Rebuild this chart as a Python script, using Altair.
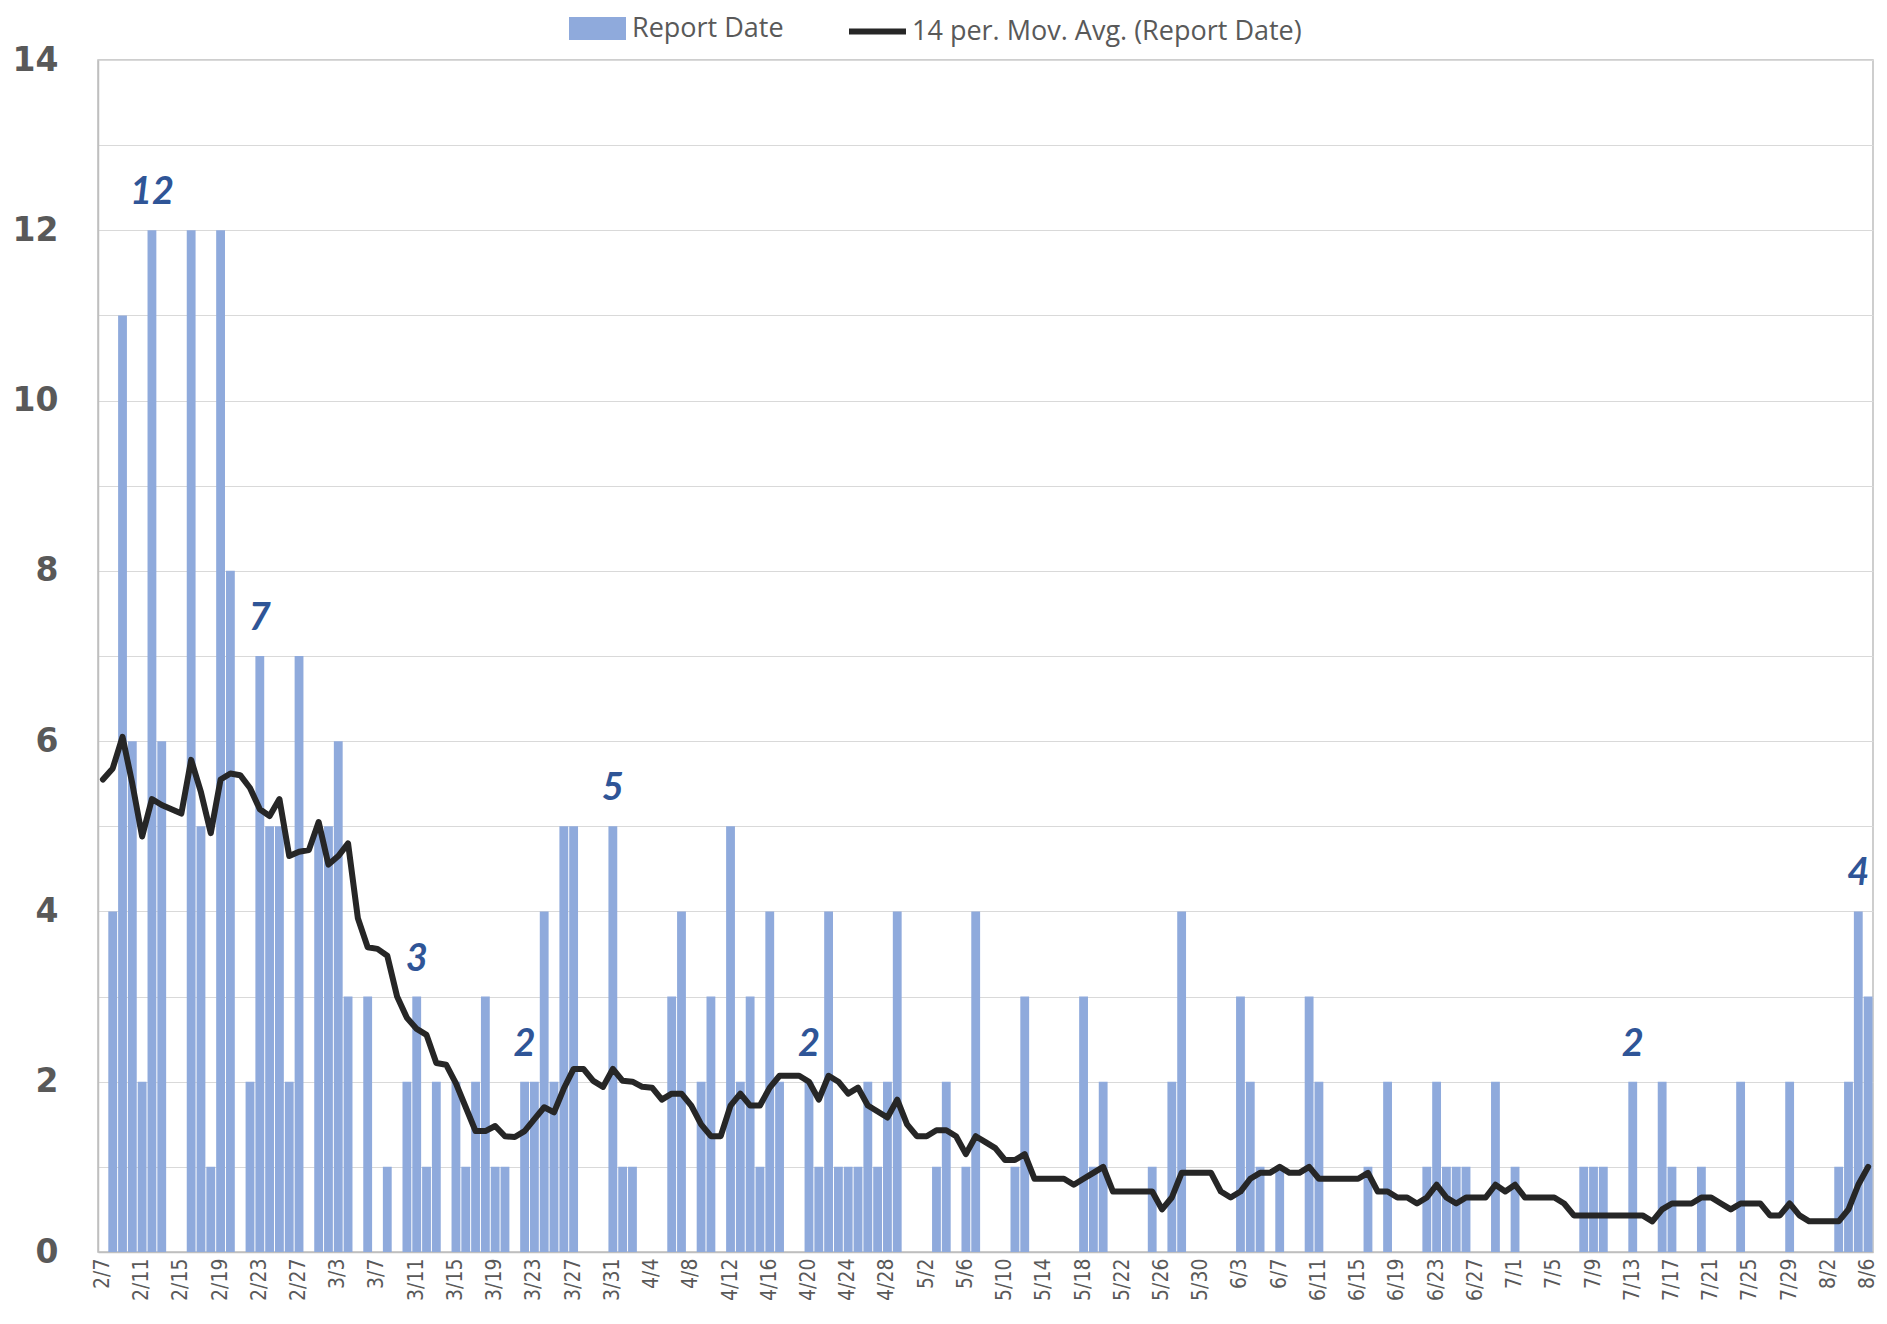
import altair as alt
import pandas as pd
import datetime as dt

# Category labels: daily report dates 2/7 .. 8/6
start = dt.date(2021, 2, 7)
days = [f"{(start + dt.timedelta(days=i)).month}/{(start + dt.timedelta(days=i)).day}" for i in range(181)]
tick_days = days[::4]

report = [
    0, 4, 11, 6, 2, 12, 6, 0, 0, 12,
    5, 1, 12, 8, 0, 2, 7, 5, 5, 2,
    7, 0, 5, 5, 6, 3, 0, 3, 0, 1,
    0, 2, 3, 1, 2, 0, 2, 1, 2, 3,
    1, 1, 0, 2, 2, 4, 2, 5, 5, 0,
    0, 0, 5, 1, 1, 0, 0, 0, 3, 4,
    0, 2, 3, 0, 5, 2, 3, 1, 4, 2,
    0, 0, 2, 1, 4, 1, 1, 1, 2, 1,
    2, 4, 0, 0, 0, 1, 2, 0, 1, 4,
    0, 0, 0, 1, 3, 0, 0, 0, 0, 0,
    3, 1, 2, 0, 0, 0, 0, 1, 0, 2,
    4, 0, 0, 0, 0, 0, 3, 2, 1, 0,
    1, 0, 0, 3, 2, 0, 0, 0, 0, 1,
    0, 2, 0, 0, 0, 1, 2, 1, 1, 1,
    0, 0, 2, 0, 1, 0, 0, 0, 0, 0,
    0, 1, 1, 1, 0, 0, 2, 0, 0, 2,
    1, 0, 0, 1, 0, 0, 0, 2, 0, 0,
    0, 0, 2, 0, 0, 0, 0, 1, 2, 4,
    3,
]

mov_avg = [
    5.55, 5.68, 6.05, 5.5, 4.88, 5.32, 5.25, 5.2, 5.15, 5.78,
    5.4, 4.92, 5.55, 5.62, 5.6, 5.45, 5.2, 5.12, 5.32, 4.65,
    4.7, 4.72, 5.05, 4.55, 4.65, 4.8, 3.92, 3.58, 3.56, 3.48,
    3.0, 2.75, 2.62, 2.55, 2.22, 2.2, 1.98, 1.7, 1.42, 1.42,
    1.48, 1.36, 1.35, 1.42, 1.56, 1.7, 1.64, 1.92, 2.15, 2.15,
    2.01, 1.94, 2.15, 2.01, 2.0, 1.94, 1.93, 1.79, 1.86, 1.86,
    1.72, 1.5, 1.36, 1.36, 1.72, 1.86, 1.72, 1.72, 1.93, 2.07,
    2.07, 2.07, 2.0, 1.79, 2.07, 2.0, 1.86, 1.93, 1.72, 1.65,
    1.58, 1.79, 1.5, 1.36, 1.36, 1.43, 1.43, 1.36, 1.15, 1.36,
    1.29, 1.22, 1.08, 1.08, 1.15, 0.86, 0.86, 0.86, 0.86, 0.79,
    0.86, 0.93, 1.0, 0.71, 0.71, 0.71, 0.71, 0.71, 0.5, 0.64,
    0.93, 0.93, 0.93, 0.93, 0.71, 0.64, 0.71, 0.86, 0.93, 0.93,
    1.0, 0.93, 0.93, 1.0, 0.86, 0.86, 0.86, 0.86, 0.86, 0.93,
    0.71, 0.71, 0.64, 0.64, 0.57, 0.64, 0.79, 0.64, 0.57, 0.64,
    0.64, 0.64, 0.79, 0.71, 0.79, 0.64, 0.64, 0.64, 0.64, 0.57,
    0.43, 0.43, 0.43, 0.43, 0.43, 0.43, 0.43, 0.43, 0.36, 0.5,
    0.57, 0.57, 0.57, 0.64, 0.64, 0.57, 0.5, 0.57, 0.57, 0.57,
    0.43, 0.43, 0.57, 0.43, 0.36, 0.36, 0.36, 0.36, 0.5, 0.79,
    1.0,
]

annot_days = ["2/12", "2/23", "3/11", "3/22", "3/31", "4/20", "7/13", "8/5"]
annot_vals = [12, 7, 3, 2, 5, 2, 2, 4]

BAR_NAME = "Report Date"
LINE_NAME = "14 per. Mov. Avg. (Report Date)"

df = pd.DataFrame({
    "day": days,
    "report": report,
    "ma": mov_avg,
    "s_bar": BAR_NAME,
    "s_line": LINE_NAME,
})
ann = pd.DataFrame({"day": annot_days, "val": annot_vals})

xscale = alt.Scale(domain=days, paddingInner=0.1, paddingOuter=0.05)
yscale = alt.Scale(domain=[0, 14], nice=False)

x_enc = alt.X(
    "day:O", scale=xscale, sort=days, title=None,
    axis=alt.Axis(values=tick_days, labelAngle=-90, labelPadding=6,
                  labelFont="Liberation Sans Narrow, DejaVu Sans Condensed, Lato",
                  labelFontSize=21, labelColor="#595959", ticks=False,
                  domainColor="#BFBFBF", domainWidth=1.5, grid=False,
                  labelOverlap=False),
)

LEG_FONT = "Open Sans"
LEG_SIZE = 27
LEG_Y = -46

bars = alt.Chart(df).mark_bar().encode(
    x=x_enc,
    y=alt.Y("report:Q", scale=yscale, title=None,
            axis=alt.Axis(values=list(range(15)), format="d",
                          labelExpr="datum.value % 2 === 0 ? datum.label : ''",
                          grid=True, gridColor="#D9D9D9", gridWidth=1,
                          ticks=False, domainColor="#BFBFBF", domainWidth=1.5,
                          labelFont="DejaVu Sans", labelFontWeight="bold",
                          labelFontSize=33, labelColor="#595959",
                          labelPadding=40)),
    color=alt.Color("s_bar:N", scale=alt.Scale(domain=[BAR_NAME], range=["#8FAADC"]),
                    legend=alt.Legend(title=None, orient="none", legendX=485, legendY=LEG_Y,
                                      symbolType="M-2,-0.8H2V0.8H-2Z", symbolSize=812,
                                      symbolStrokeWidth=0, labelOffset=20,
                                      labelFont=LEG_FONT, labelFontSize=LEG_SIZE, labelLimit=0,
                                      labelColor="#595959", padding=0)),
)

line = alt.Chart(df).mark_line(strokeWidth=6, strokeJoin="round", strokeCap="round").encode(
    x=alt.X("day:O", scale=xscale, sort=days),
    y=alt.Y("ma:Q", scale=yscale, title=None),
    color=alt.Color("s_line:N", scale=alt.Scale(domain=[LINE_NAME], range=["#262626"]),
                    legend=alt.Legend(title=None, orient="none", legendX=762, legendY=LEG_Y,
                                      symbolType="M-2,0H2", symbolSize=812,
                                      symbolStrokeWidth=6, labelOffset=17,
                                      labelFont=LEG_FONT, labelFontSize=LEG_SIZE, labelLimit=0,
                                      labelColor="#595959", padding=0)),
)

labels = alt.Chart(ann).mark_text(
    font="Lato", fontSize=38, fontWeight="bold", fontStyle="italic",
    color="#2F5597", baseline="middle", dy=-37,
).encode(
    x=alt.X("day:O", scale=xscale, sort=days),
    y=alt.Y("val:Q", scale=yscale, title=None),
    text=alt.Text("val:Q"),
)

chart = alt.layer(bars, line, labels).resolve_scale(color="independent").properties(
    width=1775, height=1192,
    padding={"left": 90, "top": 52, "right": 6, "bottom": 55},
    autosize=alt.AutoSizeParams(type="none"),
    background="white",
).configure_view(stroke="#BFBFBF", strokeWidth=1.5)

chart.save("out.html", embed_options={"renderer": "svg", "actions": False})
